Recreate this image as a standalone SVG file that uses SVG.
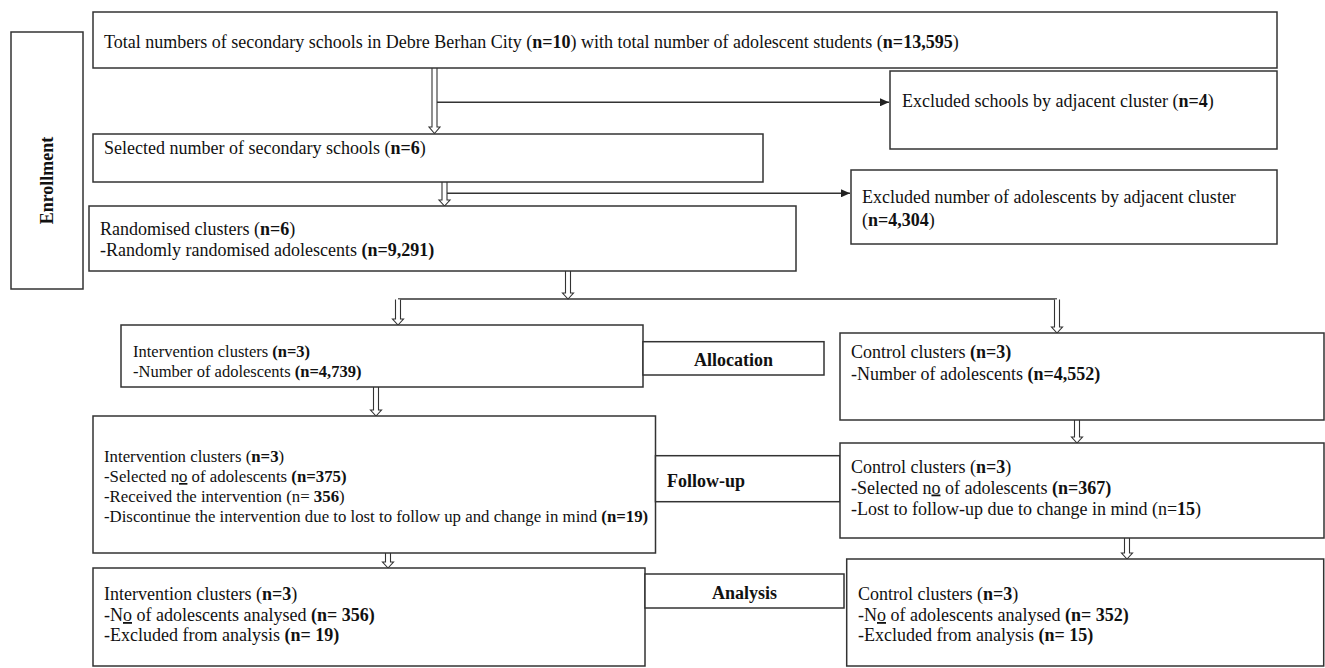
<svg xmlns="http://www.w3.org/2000/svg" width="1325" height="668" viewBox="0 0 1325 668">
<defs>
<style>
.box{fill:#fff;stroke:#333;stroke-width:1.5}
.t{font-family:"Liberation Serif","Times New Roman",serif;font-size:18px;fill:#111}
.m{font-family:"Liberation Serif","Times New Roman",serif;font-size:16.5px;fill:#111}
.s{font-family:"Liberation Serif","Times New Roman",serif;font-size:16.8px;fill:#111}
.b{font-weight:bold}
.u{text-decoration:underline}
.ln{fill:none;stroke:#333;stroke-width:1.5}
.ha{fill:#fff;stroke:#333;stroke-width:1.1}
</style>
<marker id="ah" markerWidth="10" markerHeight="8" refX="9" refY="4" orient="auto" markerUnits="userSpaceOnUse">
<path d="M0,0 L9,4 L0,8 Z" fill="#222"/>
</marker>
</defs>
<rect width="1325" height="668" fill="#fff"/>

<g id="connectors">
<path class="ha" d="M432,68 V127 H429 L434.5,133.5 L440,127 H437 V68"/>
<line class="ln" x1="437" y1="102.3" x2="889" y2="102.3" marker-end="url(#ah)"/>
<path class="ha" d="M442,182 V200 H439 L444.5,206 L450,200 H447 V182"/>
<line class="ln" x1="447" y1="193.3" x2="850" y2="193.3" marker-end="url(#ah)"/>
<path class="ha" d="M565.5,271 V293 H562.5 L568,299 L573.5,293 H570.5 V271"/>
<line class="ln" x1="398" y1="299" x2="1057" y2="299"/>
<path class="ha" d="M395.5,299.5 V319 H392.5 L398,325 L403.5,319 H400.5 V299.5"/>
<path class="ha" d="M1054.5,299.5 V327 H1051.5 L1057,333 L1062.5,327 H1059.5 V299.5"/>
<path class="ha" d="M373.5,387 V410 H370.5 L376,416 L381.5,410 H378.5 V387"/>
<path class="ha" d="M1074.5,420 V437 H1071.5 L1077,443 L1082.5,437 H1079.5 V420"/>
<path class="ha" d="M385.5,553 V562 H382.5 L388,568 L393.5,562 H390.5 V553"/>
<path class="ha" d="M1124.5,538 V553 H1121.5 L1127,559 L1132.5,553 H1129.5 V538"/>
</g>

<g id="enrollment">
<rect class="box" x="11" y="32" width="72" height="257"/>
<text class="t b" transform="translate(53,180.5) rotate(-90)" text-anchor="middle">Enrollment</text>
</g>

<g id="total">
<rect class="box" x="93" y="12" width="1184" height="56"/>
<text class="t" x="104" y="48">Total numbers of secondary schools in Debre Berhan City (<tspan class="b">n=10</tspan>) with total number of adolescent students (<tspan class="b">n=13,595</tspan>)</text>
</g>

<g id="excluded-schools">
<rect class="box" x="890" y="71" width="387" height="78"/>
<text class="t" x="902" y="107">Excluded schools by adjacent cluster (<tspan class="b">n=4</tspan>)</text>
</g>

<g id="selected">
<rect class="box" x="93" y="134" width="670" height="48"/>
<text class="t" x="104" y="154">Selected number of secondary schools (<tspan class="b">n=6</tspan>)</text>
</g>

<g id="excluded-adolescents">
<rect class="box" x="851" y="170" width="426" height="74"/>
<text class="t" x="862" y="203">Excluded number of adolescents by adjacent cluster</text>
<text class="t" x="862" y="226">(<tspan class="b">n=4,304</tspan>)</text>
</g>

<g id="randomised">
<rect class="box" x="89" y="206" width="707" height="65"/>
<text class="t" x="100" y="234.5">Randomised clusters (<tspan class="b">n=6</tspan>)</text>
<text class="t" x="100" y="256">-Randomly randomised adolescents <tspan class="b">(n=9,291)</tspan></text>
</g>

<g id="intervention-allocation">
<rect class="box" x="121" y="325" width="522" height="62"/>
<text class="m" x="133" y="356.5">Intervention clusters <tspan class="b">(n=3)</tspan></text>
<text class="m" x="133" y="376.5">-Number of adolescents <tspan class="b">(n=4,739)</tspan></text>
</g>

<g id="allocation">
<rect class="box" x="643" y="341.7" width="181" height="33.3"/>
<text class="t b" x="733.5" y="365.5" text-anchor="middle">Allocation</text>
</g>

<g id="control-allocation">
<rect class="box" x="840" y="333" width="484" height="87"/>
<text class="t" x="851" y="358">Control clusters <tspan class="b">(n=3)</tspan></text>
<text class="t" x="851" y="380">-Number of adolescents <tspan class="b">(n=4,552)</tspan></text>
</g>

<g id="intervention-followup">
<rect class="box" x="93" y="416" width="562.5" height="137"/>
<text class="s" x="104" y="462">Intervention clusters (<tspan class="b">n=3</tspan>)</text>
<text class="s" x="104" y="482">-Selected n<tspan class="u">o</tspan> of adolescents <tspan class="b">(n=375)</tspan></text>
<text class="s" x="104" y="502">-Received the intervention (n= <tspan class="b">356</tspan>)</text>
<text class="s" x="104" y="522">-Discontinue the intervention due to lost to follow up and change in mind <tspan class="b">(n=19)</tspan></text>
</g>

<g id="followup">
<rect class="box" x="655.5" y="455.7" width="184.5" height="46"/>
<text class="t b" x="667" y="486.5">Follow-up</text>
</g>

<g id="control-followup">
<rect class="box" x="840" y="443" width="484" height="95"/>
<text class="t" x="851" y="473">Control clusters (<tspan class="b">n=3</tspan>)</text>
<text class="t" x="851" y="493.5">-Selected n<tspan class="u">o</tspan> of adolescents <tspan class="b">(n=367)</tspan></text>
<text class="t" x="851" y="514.5">-Lost to follow-up due to change in mind (n=<tspan class="b">15</tspan>)</text>
</g>

<g id="intervention-analysis">
<rect class="box" x="93" y="568" width="552" height="98"/>
<text class="t" x="104" y="599.5">Intervention clusters (<tspan class="b">n=3</tspan>)</text>
<text class="t" x="104" y="621">-N<tspan class="u">o</tspan> of adolescents analysed  <tspan class="b">(n= 356)</tspan></text>
<text class="t" x="104" y="641">-Excluded from analysis  <tspan class="b">(n= 19)</tspan></text>
</g>

<g id="analysis">
<rect class="box" x="645" y="574" width="199" height="34"/>
<text class="t b" x="744.5" y="599" text-anchor="middle">Analysis</text>
</g>

<g id="control-analysis">
<rect class="box" x="846.7" y="559" width="477" height="107"/>
<text class="t" x="858" y="599.5">Control clusters (<tspan class="b">n=3</tspan>)</text>
<text class="t" x="858" y="621">-N<tspan class="u">o</tspan> of adolescents analysed  <tspan class="b">(n= 352)</tspan></text>
<text class="t" x="858" y="641">-Excluded from analysis  <tspan class="b">(n= 15)</tspan></text>
</g>
</svg>
